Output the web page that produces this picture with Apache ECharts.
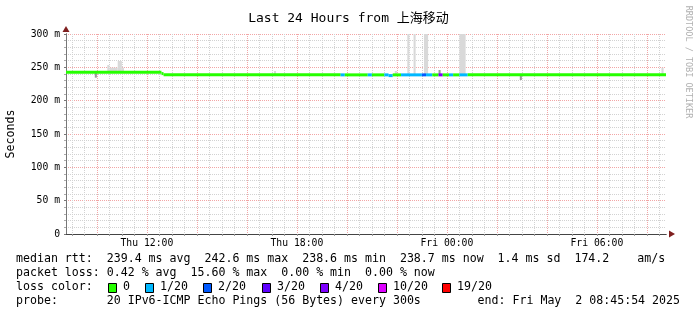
<!DOCTYPE html>
<html><head><meta charset="utf-8">
<script src="https://cdn.jsdelivr.net/npm/echarts@6/dist/echarts.min.js"></script>
<style>html,body{margin:0;padding:0;background:#fff}#c{width:697px;height:315px}</style>
</head><body><div id="c"></div><script>
const MONO = '"DejaVu Sans Mono", "Noto Sans CJK SC", monospace';

// ---- data ----
const rangeStart = 'Thu 08:45:54';
const rangeEnd = 'Fri 08:45:54';
const xTickLabels = ['Thu 12:00', 'Thu 18:00', 'Fri 00:00', 'Fri 06:00'];
const yTicks = [0, 50, 100, 150, 200, 250, 300];

const lossLevels = ['0', '1/20', '2/20', '3/20', '4/20', '10/20', '19/20'];
const lossColors = ['#26ff00', '#00b8ff', '#0059ff', '#5e00ff', '#7e00ff', '#dd00ff', '#ff0000'];

// median rtt segments (ms) with loss level index
const medStart = ['Thu 08:45:54','Thu 12:35','Thu 12:40','Thu 19:45','Thu 19:55','Thu 20:50','Thu 21:00','Thu 21:30','Thu 21:40','Thu 21:50','Thu 22:10','Thu 23:00','Thu 23:10','Thu 23:25','Thu 23:40','Thu 23:50','Fri 00:05','Fri 00:15','Fri 00:30','Fri 00:50'];
const medEnd   = ['Thu 12:35','Thu 12:40','Thu 19:45','Thu 19:55','Thu 20:50','Thu 21:00','Thu 21:30','Thu 21:40','Thu 21:50','Thu 22:10','Thu 23:00','Thu 23:10','Thu 23:25','Thu 23:40','Thu 23:50','Fri 00:05','Fri 00:15','Fri 00:30','Fri 00:50','Fri 08:45:54'];
const medRtt   = [242.6, 240.6, 238.7, 238.7, 238.7, 238.7, 238.7, 238.7, 237.6, 238.7, 238.7, 238.7, 238.7, 238.7, 238.7, 238.7, 238.7, 238.7, 238.7, 238.7];
const medLoss  = [0, 0, 0, 1, 0, 1, 0, 1, 1, 0, 1, 2, 1, 0, 4, 0, 1, 0, 1, 0];

// smoke (ping spread) blocks
const smokeStart = ['Thu 09:55','Thu 10:25','Thu 10:30','Thu 10:50','Thu 11:00','Thu 17:05','Thu 21:55','Thu 22:25','Thu 22:40','Thu 23:05','Thu 23:40','Fri 00:30','Fri 02:55','Fri 08:35'];
const smokeEnd   = ['Thu 10:00','Thu 10:30','Thu 10:50','Thu 11:00','Thu 11:05','Thu 17:10','Thu 22:00','Thu 22:30','Thu 22:45','Thu 23:15','Thu 23:45','Fri 00:45','Fri 03:00','Fri 08:40'];
const smokeLow   = [234.5, 242.6, 242.6, 242.6, 242.6, 238.7, 238.7, 238.7, 238.7, 238.7, 238.7, 238.7, 231.0, 238.7];
const smokeHigh  = [242.6, 253.5, 249.5, 259.5, 249.5, 244.5, 244.5, 330, 330, 330, 246.0, 330, 238.7, 249.5];
const smokeShade = [1, 0, 0, 0, 0, 0, 0, 0, 0, 0, 1, 0, 1, 0];

// ---- helpers ----
function parseT(s) {
  const p = s.split(' ');
  const day = p[0] === 'Fri' ? 1440 : 0;
  const hm = p[1].split(':').map(Number);
  return day + hm[0] * 60 + hm[1] + (hm[2] || 0) / 60;
}
const T0 = parseT(rangeStart), T1 = parseT(rangeEnd);
const halfHours = [], twoHours = [];
for (let t = Math.ceil(T0 / 30) * 30; t < T1; t += 30) halfHours.push(t);
for (let t = Math.ceil(T0 / 120) * 120; t < T1; t += 120) twoHours.push(t);
const labelVals = xTickLabels.map(parseT);

const medData = medStart.map((s, i) => [parseT(s), parseT(medEnd[i]), medRtt[i], medLoss[i]]);
const smokeData = smokeStart.map((s, i) => [parseT(s), parseT(smokeEnd[i]), smokeLow[i], smokeHigh[i], smokeShade[i]]);
const shadeColors = ['#d9d9d9', '#9a9a9a'];

const chart = echarts.init(document.getElementById('c'), null, {renderer: 'canvas'});
const xBase = {type: 'value', min: T0, max: T1, position: 'bottom', scale: true};
const yBase = {type: 'value', min: yTicks[0], max: yTicks[yTicks.length - 1], interval: yTicks[1] - yTicks[0], position: 'left'};

chart.setOption({
  animation: false,
  backgroundColor: '#fff',
  title: {
    text: 'Last 24 Hours from 上海移动', left: 'center', top: 7,
    textStyle: {fontFamily: MONO, fontSize: 13, fontWeight: 'normal', color: '#000'}
  },
  grid: {left: 66, top: 34, width: 600, height: 200, containLabel: false, outerBoundsMode: 'none'},
  xAxis: [
    Object.assign({}, xBase, {
      z: 2,
      axisLine: {show: true, lineStyle: {color: '#444', width: 1}},
      axisTick: {show: true, customValues: halfHours, length: 2, lineStyle: {color: '#999'}},
      axisLabel: {show: true, customValues: labelVals, margin: 5, fontFamily: MONO, fontSize: 9.75, color: '#000',
        formatter: v => { const i = labelVals.findIndex(x => Math.abs(x - v) < 0.01); return i >= 0 ? xTickLabels[i] : ''; }},
      splitLine: {show: true, lineStyle: {color: '#d2d2d2', type: [1, 1], width: 1}}
    }),
    Object.assign({}, xBase, {
      z: 3,
      axisLine: {show: false},
      axisTick: {show: false, customValues: twoHours},
      axisLabel: {show: false},
      splitLine: {show: true, lineStyle: {color: '#f2a6a6', type: [1, 1], width: 1}}
    }),
    Object.assign({}, xBase, {
      z: 1,
      axisLine: {show: true, symbol: ['none', 'triangle'], symbolSize: [7, 6], symbolOffset: [0, 6], lineStyle: {color: '#7f1f1f'}},
      axisTick: {show: false}, axisLabel: {show: false}, splitLine: {show: false}
    })
  ],
  yAxis: [
    Object.assign({}, yBase, {
      z: 2,
      name: 'Seconds', nameLocation: 'middle', nameRotate: 90, nameGap: 49,
      nameTextStyle: {fontFamily: MONO, fontSize: 11.6, color: '#000'},
      axisLine: {show: true, lineStyle: {color: '#777'}},
      axisTick: {show: true, length: 2, lineStyle: {color: '#777'}},
      minorTick: {show: true, splitNumber: 5, length: 2, lineStyle: {color: '#aaa'}},
      axisLabel: {formatter: v => v === 0 ? '0' : v + ' m', fontFamily: MONO, fontSize: 9.75, color: '#000', margin: 6},
      splitLine: {show: true, lineStyle: {color: '#f2a6a6', type: [1, 1], width: 1}},
      minorSplitLine: {show: true, lineStyle: {color: '#d2d2d2', type: [1, 1], width: 1}}
    }),
    Object.assign({}, yBase, {
      z: 1, offset: 0,
      axisLine: {show: true, symbol: ['none', 'triangle'], symbolSize: [7, 6], symbolOffset: [0, 5], lineStyle: {color: '#7f1f1f'}},
      axisTick: {show: false}, axisLabel: {show: false}, splitLine: {show: false}
    })
  ],
  series: [
    {
      type: 'custom', name: 'smoke', xAxisIndex: 0, yAxisIndex: 0, z: 3, clip: true,
      encode: {x: [0, 1], y: [2, 3]},
      data: smokeData,
      renderItem: (params, api) => {
        const a = api.coord([api.value(0), api.value(3)]);
        const b = api.coord([api.value(1), api.value(2)]);
        const cs = params.coordSys;
        const top = Math.max(a[1], cs.y);
        return {type: 'rect', shape: {x: a[0], y: top, width: b[0] - a[0], height: b[1] - top},
          style: {fill: shadeColors[api.value(4)]}};
      }
    },
    {
      type: 'custom', name: 'median', xAxisIndex: 0, yAxisIndex: 0, z: 4,
      encode: {x: [0, 1], y: 2},
      data: medData,
      renderItem: (params, api) => {
        const a = api.coord([api.value(0), api.value(2)]);
        const b = api.coord([api.value(1), api.value(2)]);
        return {type: 'rect', shape: {x: a[0], y: a[1] - 1.5, width: b[0] - a[0], height: 3},
          style: {fill: lossColors[api.value(3)]}};
      }
    }
  ],
  graphic: (function () {
    const g = [];
    const font = '11.6px ' + MONO;
    const lines = [
      ['median rtt:  239.4 ms avg  242.6 ms max  238.6 ms min  238.7 ms now  1.4 ms sd  174.2    am/s', 260],
      ['packet loss: 0.42 % avg  15.60 % max  0.00 % min  0.00 % now', 274],
      ['loss color:', 288],
      ['probe:       20 IPv6-ICMP Echo Pings (56 Bytes) every 300s', 302]
    ];
    lines.forEach(l => g.push({type: 'text', left: 16, top: l[1] - 7,
      style: {text: l[0], font: font, fill: '#000'}}));
    g.push({type: 'text', right: 17, top: 302 - 7,
      style: {text: 'end: Fri May  2 08:45:54 2025', font: font, fill: '#000'}});
    const boxX = [108, 145, 203, 262, 320, 378, 442];
    lossLevels.forEach((lv, i) => {
      g.push({type: 'rect', shape: {x: boxX[i] + 0.5, y: 283.5, width: 8, height: 9},
        style: {fill: lossColors[i], stroke: '#000', lineWidth: 1}});
      g.push({type: 'text', left: boxX[i] + 15, top: 288 - 7,
        style: {text: lv, font: font, fill: '#000'}});
    });
    g.push({type: 'text', x: 688, y: 62, rotation: -Math.PI / 2,
      style: {text: 'RRDTOOL / TOBI OETIKER', font: '8.5px ' + MONO, fill: '#b0b0b0', align: 'center', verticalAlign: 'middle'}});
    return g;
  })()
});
</script></body></html>
